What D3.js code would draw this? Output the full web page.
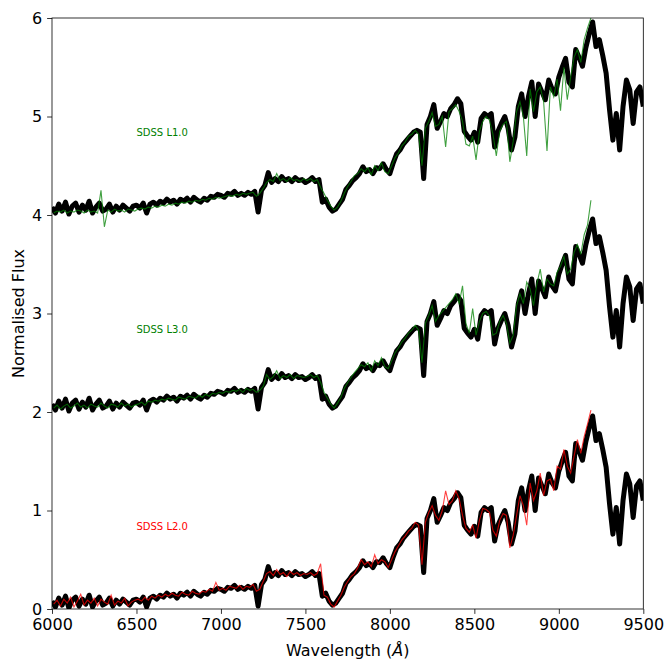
<!DOCTYPE html>
<html>
<head>
<meta charset="utf-8">
<script src="https://cdn.jsdelivr.net/npm/d3@7"></script>
<style>
  body { margin: 0; background: #fff; }
  text { font-family: "DejaVu Sans", sans-serif; }
</style>
</head>
<body>
<div id="chart-area"></div>
<script>
/*
*    spectra stack: template (black) vs SDSS standards
*/

// template flux, 6000..9500 A every 20 A
var templateFlux = [
  0.08, 0.02, 0.11, 0.04, 0.13, 0.01, 0.09, 0.12, 0.03, 0.10, 0.05, 0.14, 0.02, 0.08, 0.12, 0.04, 0.06, 0.11, 0.03, 0.09, 0.05, 0.10, 0.07, 0.04, 0.09,
  0.10, 0.07, 0.12, 0.02, 0.11, 0.13, 0.10, 0.14, 0.12, 0.16, 0.13, 0.15, 0.11, 0.16, 0.14, 0.17, 0.13, 0.18, 0.15, 0.13, 0.17, 0.15, 0.19, 0.18, 0.21,
  0.20, 0.18, 0.22, 0.21, 0.24, 0.20, 0.22, 0.20, 0.23, 0.21, 0.24, 0.03, 0.25, 0.30, 0.43, 0.33, 0.37, 0.34, 0.39, 0.35, 0.37, 0.34, 0.38, 0.35, 0.36,
  0.33, 0.35, 0.38, 0.34, 0.36, 0.13, 0.16, 0.08, 0.04, 0.06, 0.11, 0.16, 0.26, 0.30, 0.35, 0.38, 0.42, 0.49, 0.44, 0.46, 0.42, 0.48, 0.47, 0.52, 0.46,
  0.42, 0.53, 0.62, 0.66, 0.72, 0.76, 0.80, 0.84, 0.86, 0.84, 0.37, 0.92, 1.00, 1.12, 0.88, 0.95, 1.03, 1.00, 1.08, 1.12, 1.18, 1.13, 0.85, 0.80, 0.76,
  0.84, 0.74, 0.98, 1.03, 1.00, 1.03, 0.69, 0.85, 0.93, 1.00, 0.88, 0.66, 0.79, 1.10, 1.23, 1.00, 1.20, 1.35, 1.00, 1.33, 1.25, 1.17, 1.37, 1.28, 1.23,
  1.40, 1.50, 1.59, 1.35, 1.30, 1.68, 1.60, 1.51, 1.70, 1.84, 1.96, 1.71, 1.78, 1.62, 1.44, 1.07, 0.76, 1.03, 0.66, 1.10, 1.37, 1.27, 0.93, 1.25, 1.30,
  1.10
];

// SDSS spectra, 6010..9190 A every 20 A
var sdssL1 = [
  0.02, 0.04, 0.03, 0.05, 0.02, 0.04, 0.03, 0.05, 0.04, 0.02, 0.05, 0.03, 0.04, 0.02, 0.25, -0.12, 0.05, 0.03, 0.06, 0.04, 0.05, 0.03, 0.06, 0.05, 0.04,
  0.06, 0.07, 0.06, 0.08, 0.07, 0.09, 0.08, 0.10, 0.09, 0.11, 0.10, 0.12, 0.11, 0.13, 0.12, 0.14, 0.13, 0.15, 0.14, 0.16, 0.15, 0.17, 0.16, 0.18, 0.17,
  0.18, 0.19, 0.20, 0.19, 0.21, 0.20, 0.22, 0.21, 0.22, 0.23, 0.19, 0.22, 0.27, 0.33, 0.36, 0.34, 0.42, 0.35, 0.37, 0.34, 0.38, 0.35, 0.36, 0.34, 0.37,
  0.35, 0.37, 0.34, 0.36, 0.28, 0.22, 0.15, 0.09, 0.05, 0.08, 0.14, 0.22, 0.29, 0.34, 0.40, 0.42, 0.47, 0.44, 0.48, 0.41, 0.50, 0.45, 0.53, 0.44, 0.42,
  0.50, 0.58, 0.63, 0.70, 0.74, 0.80, 0.82, 0.86, 0.82, 0.50, 0.88, 0.95, 1.04, 0.90, 0.92, 1.00, 0.69, 1.05, 1.08, 1.12, 1.05, 0.95, 0.72, 0.70, 0.80,
  0.56, 0.85, 0.95, 1.00, 0.96, 0.82, 0.60, 0.85, 0.92, 0.95, 0.54, 0.75, 1.05, 1.15, 1.00, 0.60, 1.28, 1.05, 1.25, 1.30, 1.15, 0.65, 1.30, 1.20, 1.38,
  1.06, 1.50, 1.17, 1.40, 1.60, 1.68, 1.55, 1.78, 1.90, 2.00
];
var sdssL3 = [
  0.04, 0.07, 0.03, 0.06, 0.08, 0.04, 0.06, 0.09, 0.05, 0.07, 0.04, 0.08, 0.06, 0.05, 0.09, 0.06, 0.04, 0.08, 0.07, 0.05, 0.09, 0.06, 0.08, 0.05, 0.07,
  0.08, 0.10, 0.07, 0.11, 0.10, 0.12, 0.11, 0.13, 0.12, 0.14, 0.13, 0.12, 0.15, 0.14, 0.13, 0.16, 0.15, 0.14, 0.17, 0.15, 0.18, 0.16, 0.19, 0.18, 0.20,
  0.19, 0.21, 0.20, 0.22, 0.21, 0.23, 0.20, 0.24, 0.22, 0.23, 0.20, 0.22, 0.26, 0.38, 0.33, 0.36, 0.42, 0.34, 0.37, 0.35, 0.38, 0.34, 0.37, 0.36, 0.35,
  0.36, 0.38, 0.35, 0.37, 0.30, 0.20, 0.14, 0.08, 0.04, 0.09, 0.15, 0.24, 0.30, 0.35, 0.40, 0.44, 0.48, 0.46, 0.50, 0.42, 0.52, 0.47, 0.55, 0.46, 0.44,
  0.52, 0.60, 0.65, 0.71, 0.75, 0.80, 0.83, 0.88, 0.83, 0.50, 0.90, 0.98, 1.08, 0.92, 0.98, 1.02, 1.06, 1.10, 1.14, 1.20, 1.10, 1.28, 0.90, 0.80, 1.05,
  0.78, 0.92, 1.00, 1.02, 0.97, 0.78, 0.80, 0.92, 0.98, 0.90, 0.70, 0.78, 1.08, 1.20, 1.10, 1.32, 1.25, 1.08, 1.30, 1.45, 1.22, 1.35, 1.30, 1.28, 1.42,
  1.48, 1.58, 1.40, 1.45, 1.62, 1.70, 1.60, 1.80, 1.90, 2.15
];
var sdssL2 = [
  0.05, 0.09, 0.03, 0.10, 0.06, 0.12, 0.02, 0.08, 0.15, 0.04, 0.09, 0.06, 0.11, 0.03, 0.10, 0.07, 0.05, 0.14, 0.04, 0.08, 0.06, 0.11, 0.03, 0.07, 0.09,
  0.10, 0.08, 0.12, 0.09, 0.13, 0.11, 0.14, 0.12, 0.15, 0.13, 0.16, 0.14, 0.13, 0.17, 0.15, 0.14, 0.18, 0.16, 0.15, 0.18, 0.17, 0.20, 0.18, 0.27, 0.19,
  0.21, 0.19, 0.23, 0.22, 0.21, 0.24, 0.20, 0.23, 0.22, 0.25, 0.18, 0.20, 0.28, 0.36, 0.38, 0.34, 0.40, 0.35, 0.37, 0.33, 0.38, 0.35, 0.37, 0.34, 0.36,
  0.35, 0.37, 0.34, 0.36, 0.46, 0.14, 0.12, 0.05, 0.02, 0.08, 0.14, 0.22, 0.28, 0.33, 0.36, 0.42, 0.50, 0.45, 0.48, 0.43, 0.55, 0.46, 0.50, 0.48, 0.42,
  0.50, 0.58, 0.64, 0.70, 0.74, 0.79, 0.82, 0.88, 0.85, 0.45, 0.88, 0.98, 1.05, 0.95, 0.90, 1.00, 1.20, 1.06, 1.10, 1.20, 1.12, 0.95, 0.82, 0.78, 0.85,
  0.72, 0.90, 1.02, 1.01, 0.98, 0.80, 0.74, 0.90, 0.97, 0.95, 0.62, 0.75, 0.95, 1.15, 1.05, 0.85, 1.28, 1.10, 1.20, 1.38, 1.15, 1.30, 1.32, 1.20, 1.45,
  1.42, 1.62, 1.45, 1.38, 1.55, 1.72, 1.58, 1.75, 1.88, 2.02
];

var spectraNames = ["SDSS L1.0", "SDSS L3.0", "SDSS L2.0"];
var spectraOffsets = [4, 2, 0];
var spectraColors = ["#008000", "#008000", "#ff0000"];
var spectraFlux = [sdssL1, sdssL3, sdssL2];

var xTicks = [6000, 6500, 7000, 7500, 8000, 8500, 9000, 9500];
var yTicks = [0, 1, 2, 3, 4, 5, 6];

var templateWave = d3.range(6000, 9501, 20);
var sdssWave = d3.range(6010, 9191, 20);

var margin = {top: 18, right: 22.7, bottom: 52, left: 52};
var width = 666 - margin.left - margin.right;
var height = 661 - margin.top - margin.bottom;

var svg = d3.select("#chart-area").append("svg")
    .attr("width", 666)
    .attr("height", 661);

var g = svg.append("g")
    .attr("transform", "translate(" + margin.left + ", " + margin.top + ")");

var x = d3.scaleLinear()
    .domain([6000, 9500])
    .range([0, width]);

var y = d3.scaleLinear()
    .domain([0, 6])
    .range([height, 0]);

g.append("clipPath")
    .attr("id", "clip")
  .append("rect")
    .attr("width", width)
    .attr("height", height);

var plot = g.append("g").attr("clip-path", "url(#clip)");

// black template, one copy per offset
spectraOffsets.forEach((off) => {
  var line = d3.line()
      .x((d, i) => x(templateWave[i]))
      .y((d) => y(d + off));
  plot.append("path")
      .datum(templateFlux)
      .attr("fill", "none")
      .attr("stroke", "#000")
      .attr("stroke-width", 5)
      .attr("stroke-linejoin", "round")
      .attr("d", line);
});

// coloured SDSS spectra on top
spectraFlux.forEach((flux, k) => {
  var off = spectraOffsets[k];
  var line = d3.line()
      .x((d, i) => x(sdssWave[i]))
      .y((d) => y(d + off));
  plot.append("path")
      .datum(flux)
      .attr("fill", "none")
      .attr("stroke", spectraColors[k])
      .attr("stroke-opacity", 0.75)
      .attr("stroke-width", 1.1)
      .attr("d", line);
});

// labels
spectraNames.forEach((name, k) => {
  g.append("text")
      .attr("x", x(6500))
      .attr("y", y(spectraOffsets[k] + 0.8))
      .attr("font-size", "10px")
      .style("fill", spectraColors[k])
      .text(name);
});

var bottomAxis = d3.axisBottom(x)
    .tickValues(xTicks)
    .tickFormat(d3.format("d"))
    .tickSizeInner(4.9)
    .tickSizeOuter(0)
    .tickPadding(4.9);

var leftAxis = d3.axisLeft(y)
    .tickValues(yTicks)
    .tickFormat(d3.format("d"))
    .tickSizeInner(4.9)
    .tickSizeOuter(0)
    .tickPadding(4.9);

var xAxisG = g.append("g")
    .attr("class", "bottom axis")
    .attr("transform", "translate(0, " + height + ")")
    .call(bottomAxis);

var yAxisG = g.append("g")
    .attr("class", "left axis")
    .call(leftAxis);

[xAxisG, yAxisG].forEach((a) => {
  a.select(".domain").remove();
  a.selectAll("line").attr("stroke", "#000").attr("stroke-width", 0.8);
  a.selectAll("text")
      .attr("font-size", "16px")
      .attr("font-family", "DejaVu Sans")
      .style("fill", "#000");
});

// frame
g.append("rect")
    .attr("width", width)
    .attr("height", height)
    .attr("fill", "none")
    .attr("stroke", "#000")
    .attr("stroke-width", 0.8);

var xLabel = g.append("text")
    .attr("class", "x axis-label")
    .attr("x", width / 2)
    .attr("y", height + 47)
    .attr("font-size", "16px")
    .attr("text-anchor", "middle")
    .style("fill", "black");
xLabel.append("tspan").text("Wavelength (");
xLabel.append("tspan").attr("font-style", "italic").text("Å");
xLabel.append("tspan").text(")");

g.append("text")
    .attr("class", "y axis-label")
    .attr("x", -(height / 2))
    .attr("y", -28)
    .attr("font-size", "16px")
    .attr("text-anchor", "middle")
    .attr("transform", "rotate(-90)")
    .style("fill", "black")
    .text("Normalised Flux");
</script>
</body>
</html>
